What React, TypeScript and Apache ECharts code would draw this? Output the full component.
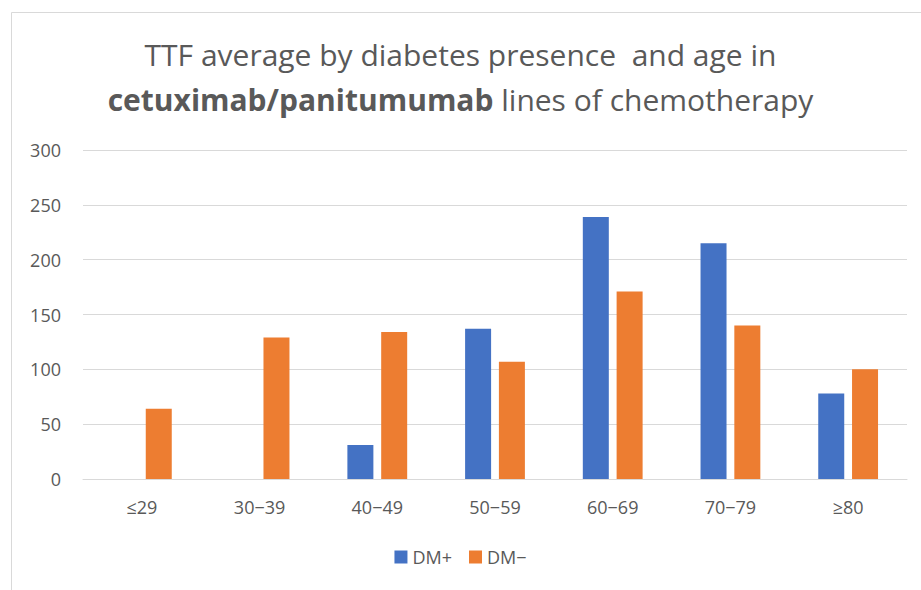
import React, { useEffect, useRef } from "react";
import * as echarts from "echarts";

const categories = ["≤29", "30−39", "40−49", "50−59", "60−69", "70−79", "≥80"];
const dmPlus = [null, null, 31, 137, 239, 215, 78];
const dmMinus = [64, 129, 134, 107, 171, 140, 100];
const yTicks = { min: 0, max: 300, interval: 50 };

export default function App() {
  const ref = useRef<HTMLDivElement>(null);
  useEffect(() => {
    if (!ref.current) return;
    const chart = echarts.init(ref.current, undefined, { renderer: "svg" });
    const font = "Open Sans";
    chart.setOption({
      animation: false,
      backgroundColor: "#ffffff",
      graphic: [
        {
          type: "rect",
          shape: { x: 11.5, y: 12.5, width: 1000, height: 700 },
          style: { fill: "none", stroke: "#d9d9d9", lineWidth: 1 },
          silent: true,
        },
      ],
      title: {
        left: "center",
        top: 27,
        text: "TTF average by diabetes presence  and age in\n{b|cetuximab/panitumumab} lines of chemotherapy",
        textStyle: {
          fontFamily: font,
          fontSize: 30,
          fontWeight: "normal",
          color: "#595959",
          lineHeight: 45,
          rich: {
            b: { fontFamily: font, fontSize: 30, fontWeight: "bold", color: "#595959", lineHeight: 45 },
          },
        },
      },
      legend: {
        bottom: 19,
        left: "center",
        itemWidth: 13,
        itemHeight: 13,
        itemGap: 17,
        icon: "rect",
        textStyle: { fontFamily: font, fontSize: 18, color: "#595959" },
        data: ["DM+", "DM−"],
      },
      grid: { left: 83, right: 14, top: 150, bottom: 111 },
      xAxis: {
        type: "category",
        data: categories,
        axisLine: { lineStyle: { color: "#d9d9d9", width: 1 } },
        axisTick: { show: false },
        axisLabel: { fontFamily: font, fontSize: 18, color: "#595959", margin: 19 },
      },
      yAxis: {
        type: "value",
        min: yTicks.min,
        max: yTicks.max,
        interval: yTicks.interval,
        axisLine: { show: false },
        axisTick: { show: false },
        splitLine: { lineStyle: { color: "#d9d9d9", width: 1 } },
        axisLabel: { fontFamily: font, fontSize: 18, color: "#595959", margin: 22 },
      },
      series: [
        {
          name: "DM+",
          type: "bar",
          data: dmPlus,
          barWidth: 26,
          barGap: "30%",
          itemStyle: { color: "#4472c4" },
        },
        {
          name: "DM−",
          type: "bar",
          data: dmMinus,
          barWidth: 26,
          barGap: "30%",
          itemStyle: { color: "#ed7d31" },
        },
      ],
    });
    return () => chart.dispose();
  }, []);
  return (
    <div
      ref={ref}
      style={{ position: "fixed", left: 0, top: 0, width: 921, height: 590 }}
    />
  );
}
